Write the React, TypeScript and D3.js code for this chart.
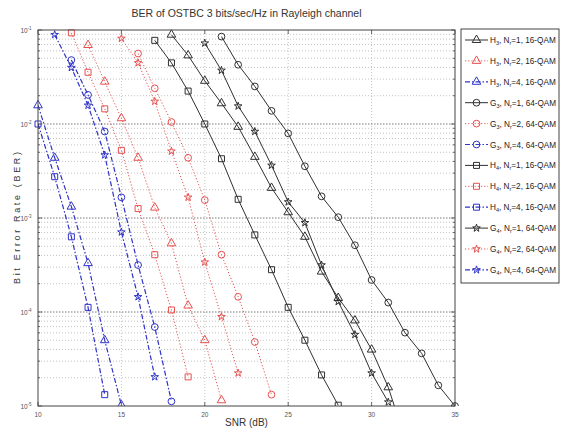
import React from 'react';
import * as d3 from 'd3';

// SNR (dB) / BER, one pair per curve
const snrH3N1 = [18, 19, 20, 21, 22, 23, 24, 25, 26, 27, 28, 29, 30, 31, 32];
const berH3N1 = [0.0891, 0.0537, 0.0288, 0.0166, 0.00933, 0.00447, 0.00209, 0.00115, 6.31e-4, 2.69e-4, 1.41e-4, 8.13e-5, 3.98e-5, 1.58e-5, 4.47e-6];
const snrH3N2 = [13, 14, 15, 16, 17, 18, 19, 20, 21];
const berH3N2 = [0.0692, 0.0282, 0.0115, 0.00437, 0.00129, 5.37e-4, 1.17e-4, 5.01e-5, 1.15e-5];
const snrH3N4 = [10, 11, 12, 13, 14, 15];
const berH3N4 = [0.0158, 0.00437, 0.00132, 3.31e-4, 5.01e-5, 1.02e-5];

const snrG3N1 = [21, 22, 23, 24, 25, 26, 27, 28, 29, 30, 31, 32, 33, 34, 35];
const berG3N1 = [0.0851, 0.0427, 0.0251, 0.0138, 0.00794, 0.00355, 0.0017, 0.00102, 5.13e-4, 2.19e-4, 1.26e-4, 6.03e-5, 3.63e-5, 1.66e-5, 1.0e-5];
const snrG3N2 = [16, 17, 18, 19, 20, 21, 22, 23, 24];
const berG3N2 = [0.0562, 0.024, 0.0105, 0.00437, 0.00155, 4.07e-4, 1.45e-4, 4.79e-5, 1.32e-5];
const snrG3N4 = [12, 13, 14, 15, 16, 17, 18];
const berG3N4 = [0.0479, 0.0204, 0.00832, 0.00166, 3.16e-4, 6.92e-5, 1.12e-5];

const snrH4N1 = [17, 18, 19, 20, 21, 22, 23, 24, 25, 26, 27, 28];
const berH4N1 = [0.0776, 0.0447, 0.0224, 0.01, 0.00427, 0.00158, 6.61e-4, 2.82e-4, 1.12e-4, 5.01e-5, 2.14e-5, 1.02e-5];
const snrH4N2 = [12, 13, 14, 15, 16, 17, 18, 19];
const berH4N2 = [0.0933, 0.0355, 0.0145, 0.00525, 0.00126, 4.07e-4, 1.05e-4, 2.04e-5];
const snrH4N4 = [10, 11, 12, 13, 14];
const berH4N4 = [0.01, 0.00275, 6.31e-4, 1.12e-4, 1.32e-5];

const snrG4N1 = [20, 21, 22, 23, 24, 25, 26, 27, 28, 29, 30, 31];
const berG4N1 = [0.0724, 0.0372, 0.0155, 0.00832, 0.00363, 0.00148, 8.91e-4, 3.16e-4, 1.29e-4, 5.75e-5, 2.24e-5, 1.1e-5];
const snrG4N2 = [15, 16, 17, 18, 19, 20, 21, 22];
const berG4N2 = [0.0813, 0.0447, 0.0174, 0.00513, 0.00166, 3.39e-4, 8.91e-5, 2.24e-5];
const snrG4N4 = [11, 12, 13, 14, 15, 16, 17];
const berG4N4 = [0.0891, 0.0398, 0.0158, 0.00468, 7.08e-4, 1.45e-4, 2.04e-5];

const codeNames = ['H', 'H', 'H', 'G', 'G', 'G', 'H', 'H', 'H', 'G', 'G', 'G'];
const codeSubs = ['3', '3', '3', '3', '3', '3', '4', '4', '4', '4', '4', '4'];
const nrValues = [1, 2, 4, 1, 2, 4, 1, 2, 4, 1, 2, 4];
const modNames = ['16-QAM', '16-QAM', '16-QAM', '64-QAM', '64-QAM', '64-QAM', '16-QAM', '16-QAM', '16-QAM', '64-QAM', '64-QAM', '64-QAM'];

const xTicks = [10, 15, 20, 25, 30, 35];
const yDecades = [-1, -2, -3, -4, -5];

const W = 561;
const H = 434;
const left = 38, right = 455, top = 30, bottom = 406;

const styleByNr = {
  1: { color: '#303030', dash: null, width: 1 },
  2: { color: '#e8504f', dash: '1.2,2', width: 1 },
  4: { color: '#2f33c8', dash: '5,2,1.5,2', width: 1.2 },
};

const symbols = [d3.symbolTriangle, d3.symbolCircle, d3.symbolSquare, d3.symbolStar];
const symbolSizes = [32, 36, 36, 18];

const curves = [
  [snrH3N1, berH3N1], [snrH3N2, berH3N2], [snrH3N4, berH3N4],
  [snrG3N1, berG3N1], [snrG3N2, berG3N2], [snrG3N4, berG3N4],
  [snrH4N1, berH4N1], [snrH4N2, berH4N2], [snrH4N4, berH4N4],
  [snrG4N1, berG4N1], [snrG4N2, berG4N2], [snrG4N4, berG4N4],
];

const series = curves.map(([snr, ber], i) => ({
  points: snr.map((s, j) => ({ snr: s, ber: ber[j] })),
  style: styleByNr[nrValues[i]],
  symbol: d3.symbol(symbols[Math.floor(i / 3)], symbolSizes[Math.floor(i / 3)])(),
}));

const App = () => {
  const x = d3.scaleLinear().domain([10, 35]).range([left, right]);
  const y = d3.scaleLog().domain([1e-5, 1e-1]).range([bottom, top]);
  const line = d3.line<any>().x(d => x(d.snr)).y(d => y(d.ber));

  const minor: number[] = [];
  yDecades.slice(1).forEach(e => {
    for (let k = 2; k <= 9; k++) minor.push(k * Math.pow(10, e));
  });

  const font = 'Liberation Sans, Arial, sans-serif';
  const legendTop = 40;
  const legendStep = 20.9;

  return (
    <svg width={W} height={H} style={{ position: 'absolute', left: 0, top: 0, background: '#fff' }} fontFamily={font}>
      <defs>
        <clipPath id="plotClip">
          <rect x={left} y={top} width={right - left} height={bottom - top} />
        </clipPath>
        <clipPath id="markClip">
          <rect x={left - 5} y={top - 5} width={right - left + 10} height={bottom - top + 5} />
        </clipPath>
      </defs>

      <text x={(left + right) / 2} y={17} textAnchor="middle" fontSize={10.5} fill="#333" textLength={230} lengthAdjust="spacingAndGlyphs">
        BER of OSTBC 3 bits/sec/Hz in Rayleigh channel
      </text>

      {/* grid */}
      <g stroke="#9a9a9a" strokeWidth={0.6} strokeDasharray="1,2">
        {minor.map((v, i) => (
          <line key={'m' + i} x1={left} x2={right} y1={y(v)} y2={y(v)} />
        ))}
        {xTicks.slice(1, -1).map(t => (
          <line key={'x' + t} x1={x(t)} x2={x(t)} y1={top} y2={bottom} />
        ))}
      </g>
      <g stroke="#555" strokeWidth={0.8} strokeDasharray="1.5,1.5">
        {yDecades.slice(1, -1).map(e => (
          <line key={'d' + e} x1={left} x2={right} y1={y(Math.pow(10, e))} y2={y(Math.pow(10, e))} />
        ))}
      </g>

      {/* curves */}
      <g clipPath="url(#plotClip)">
        {series.map((s, i) => (
          <path key={i} d={line(s.points) || ''} fill="none" stroke={s.style.color}
            strokeWidth={s.style.width} strokeDasharray={s.style.dash || undefined} />
        ))}
      </g>
      <g clipPath="url(#markClip)">
        {series.map((s, i) => s.points.map((p, j) => (
          <path key={i + '-' + j} d={s.symbol || ''} transform={`translate(${x(p.snr)},${y(p.ber)})`}
            fill="none" stroke={s.style.color} strokeWidth={1} />
        )))}
      </g>

      {/* box and ticks */}
      <rect x={left} y={top} width={right - left} height={bottom - top} fill="none" stroke="#444" strokeWidth={1} />
      <g stroke="#444" strokeWidth={0.8}>
        {xTicks.map(t => (
          <g key={'xt' + t}>
            <line x1={x(t)} x2={x(t)} y1={bottom} y2={bottom - 4} />
            <line x1={x(t)} x2={x(t)} y1={top} y2={top + 4} />
          </g>
        ))}
        {yDecades.map(e => (
          <g key={'yt' + e}>
            <line x1={left} x2={left + 4} y1={y(Math.pow(10, e))} y2={y(Math.pow(10, e))} />
            <line x1={right} x2={right - 4} y1={y(Math.pow(10, e))} y2={y(Math.pow(10, e))} />
          </g>
        ))}
        {minor.map((v, i) => (
          <g key={'ym' + i}>
            <line x1={left} x2={left + 2} y1={y(v)} y2={y(v)} />
            <line x1={right} x2={right - 2} y1={y(v)} y2={y(v)} />
          </g>
        ))}
      </g>

      {xTicks.map(t => (
        <text key={'xl' + t} x={x(t)} y={bottom + 11} textAnchor="middle" fontSize={6.5} fill="#555">{t}</text>
      ))}
      {yDecades.map(e => (
        <text key={'yl' + e} x={left - 12} y={y(Math.pow(10, e)) + 3} textAnchor="middle" fontSize={6.5} fill="#555">
          10<tspan dy={-3} fontSize={4.5}>{e}</tspan>
        </text>
      ))}

      <text x={(left + right) / 2} y={426} textAnchor="middle" fontSize={10} fill="#333">SNR (dB)</text>
      <text transform={`translate(20,${(top + bottom) / 2}) rotate(-90)`} textAnchor="middle" fontSize={9} fill="#333"
        textLength={132} lengthAdjust="spacing">
        Bit Error Rate (BER)
      </text>

      {/* legend */}
      <rect x={461} y={29} width={98} height={254} fill="#fff" stroke="#444" strokeWidth={1} />
      {series.map((s, i) => {
        const ly = legendTop + i * legendStep;
        return (
          <g key={'lg' + i}>
            <line x1={465} x2={488} y1={ly} y2={ly} stroke={s.style.color} strokeWidth={s.style.width}
              strokeDasharray={s.style.dash || undefined} />
            <path d={s.symbol || ''} transform={`translate(476.5,${ly})`} fill="none" stroke={s.style.color} strokeWidth={1} />
            <text x={490} y={ly + 3} fontSize={8.2} fill="#222">
              {codeNames[i]}<tspan dy={2} fontSize={5.5}>{codeSubs[i]}</tspan>
              <tspan dy={-2}>, N</tspan><tspan dy={2} fontSize={5.5}>r</tspan>
              <tspan dy={-2}>={nrValues[i]}, {modNames[i]}</tspan>
            </text>
          </g>
        );
      })}
    </svg>
  );
};

export default App;
